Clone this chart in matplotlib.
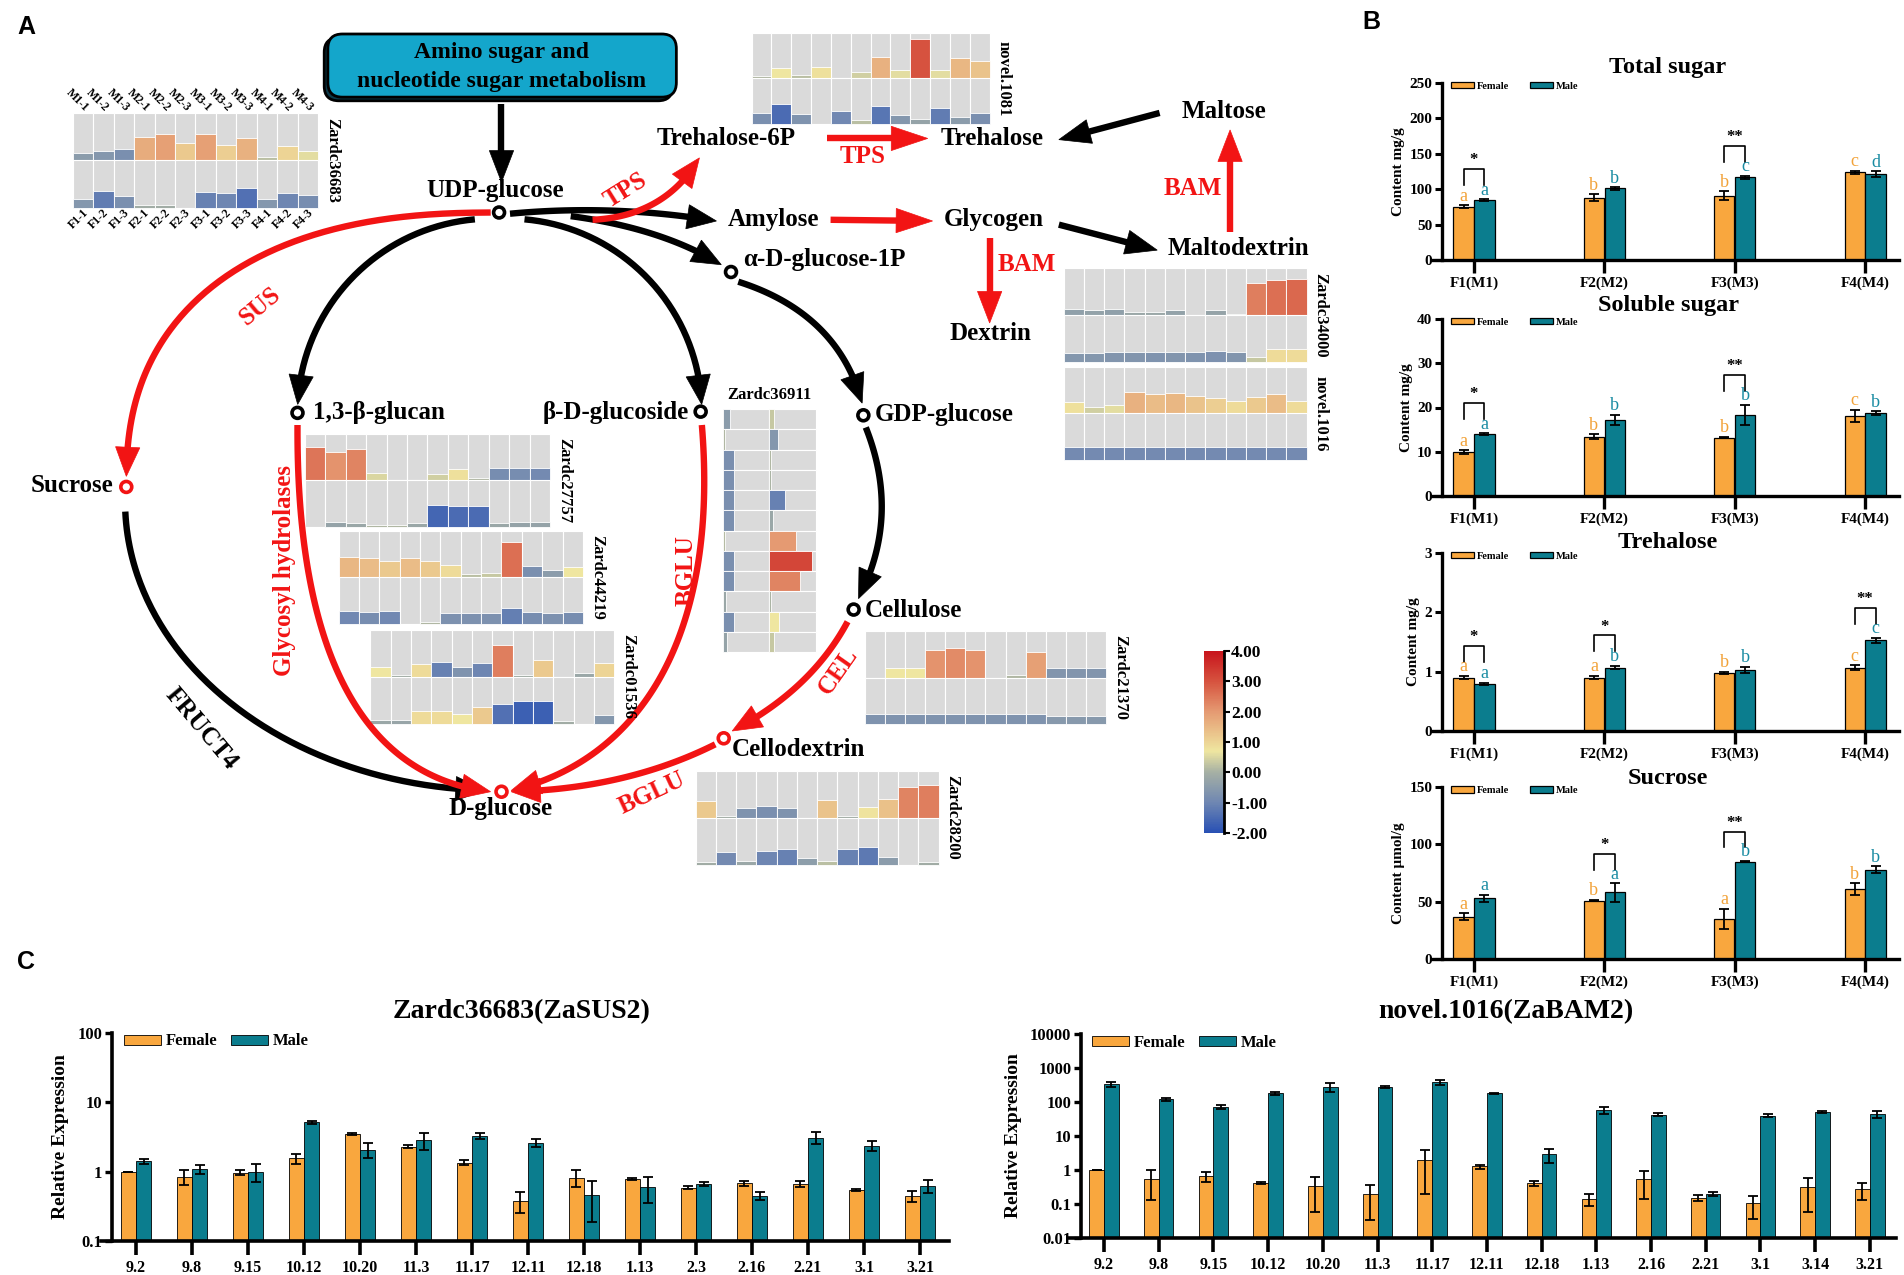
#!/usr/bin/env python3
"""Sugar metabolism figure: pathway with expression bars (A), sugar contents (B), qPCR (C)"""

import numpy as np
from math import comb
import matplotlib
matplotlib.use('Agg')
import matplotlib.pyplot as plt
from matplotlib.patches import Rectangle, Polygon, FancyBboxPatch, Circle
from matplotlib.colors import LinearSegmentedColormap, Normalize
from matplotlib.cm import ScalarMappable

plt.rcParams['font.family'] = ['Liberation Serif', 'DejaVu Serif']
plt.rcParams['font.weight'] = 'bold'
plt.rcParams['axes.labelweight'] = 'bold'

W, H = 1904, 1275          # output pixels
DW, DH = 1568, 1050        # drawing units for panel A (same aspect)

ORANGE = '#F9A73E'
TEAL = '#0B7D8E'
ORANGE_TXT = '#F2A33A'
TEAL_TXT = '#1A8CA3'
RED = '#F21414'

# === Panel A: expression bars, values on the -2..4 colour scale ===
m_samples = ['M1-1', 'M1-2', 'M1-3', 'M2-1', 'M2-2', 'M2-3', 'M3-1', 'M3-2', 'M3-3', 'M4-1', 'M4-2', 'M4-3']
f_samples = ['F1-1', 'F1-2', 'F1-3', 'F2-1', 'F2-2', 'F2-3', 'F3-1', 'F3-2', 'F3-3', 'F4-1', 'F4-2', 'F4-3']

zardc36683_m = [-0.5, -0.6, -0.8, 1.7, 1.9, 1.2, 1.9, 1.1, 1.6, 0.2, 1.0, 0.6]
zardc36683_f = [-0.6, -1.2, -0.8, -0.1, -0.1, 0.0, -1.1, -1.0, -1.4, -0.6, -1.0, -0.85]
novel1081_m = [0.1, 0.7, 0.2, 0.8, 0.0, 0.4, 1.6, 0.6, 3.0, 0.6, 1.5, 1.3]
novel1081_f = [-0.8, -1.5, -0.7, 0.0, -0.95, 0.2, -1.3, -0.6, -0.3, -1.2, -0.5, -0.8]
zardc34000_m = [-0.4, -0.35, -0.4, -0.2, -0.2, -0.35, 0.0, -0.3, -0.05, 2.4, 2.6, 2.7]
zardc34000_f = [-0.6, -0.6, -0.65, -0.65, -0.7, -0.65, -0.7, -0.75, -0.65, 0.3, 0.9, 0.9]
novel1016_m = [0.8, 0.4, 0.6, 1.6, 1.4, 1.5, 1.3, 1.1, 0.9, 1.2, 1.4, 0.9]
novel1016_f = [-0.9, -0.9, -0.9, -0.9, -0.9, -0.9, -0.9, -0.9, -0.9, -0.9, -0.9, -0.9]
zardc27757_m = [2.5, 2.1, 2.3, 0.5, 0.0, 0.0, 0.4, 0.8, 0.1, -0.85, -0.85, -0.9]
zardc27757_f = [0.0, -0.3, -0.2, 0.1, 0.1, -0.2, -1.6, -1.5, -1.5, -0.2, -0.3, -0.3]
zardc44219_m = [1.5, 1.4, 1.2, 1.4, 1.2, 0.9, 0.2, 0.3, 2.6, -0.8, -0.5, 0.7]
zardc44219_f = [-0.95, -0.85, -0.95, 0.0, 0.1, -0.75, -0.75, -0.75, -1.15, -0.85, -0.75, -0.85]
zardc01536_m = [0.7, -0.1, 0.9, -1.1, -0.7, -1.0, 2.4, -0.1, 1.2, 0.0, -0.2, 1.0]
zardc01536_f = [-0.2, -0.25, 0.9, 0.9, 0.7, 1.2, -1.4, -1.7, -1.7, -0.1, 0.0, -0.6]
zardc21370_m = [0.0, 0.7, 0.7, 2.1, 2.2, 2.1, 0.0, 0.1, 1.9, -0.65, -0.65, -0.65]
zardc21370_f = [-0.7, -0.7, -0.7, -0.7, -0.7, -0.7, -0.7, -0.7, -0.7, -0.55, -0.55, -0.55]
zardc28200_m = [1.2, -0.1, -0.7, -0.8, -0.7, 0.0, 1.3, -0.1, 0.75, 1.35, 2.3, 2.4]
zardc28200_f = [-0.1, -0.9, -0.2, -1.0, -1.1, -0.45, 0.2, -1.1, -1.25, -0.5, 0.0, -0.1]
zardc36911_f = [-0.5, 0.1, -0.8, -0.8, -0.8, -0.8, 0.15, -0.8, -0.8, -0.2, -0.8, -0.3]
zardc36911_m = [0.3, -0.6, 0.1, 0.05, -1.1, -0.2, 2.0, 3.2, 2.3, 0.05, 0.7, 0.3]

scale_vals = [-2, -1, 0, 0.7, 2, 3, 4]
scale_cols = ['#2850b4', '#6f87b2', '#a6b0a4', '#efe6a0', '#e59a72', '#d6533f', '#c8141c']
cbar_ticks = [-2, -1, 0, 1, 2, 3, 4]

# === Panel B: sugar contents ===
groups_b = ['F1(M1)', 'F2(M2)', 'F3(M3)', 'F4(M4)']
total_f = [75, 88, 91, 124]
total_fe = [2, 5, 6, 2]
total_m = [85, 101, 117, 121]
total_me = [1, 2, 2, 4]
total_fl = ['a', 'b', 'b', 'c']
total_ml = ['a', 'b', 'c', 'd']
total_sig = {0: '*', 2: '**'}

soluble_f = [9.9, 13.4, 13.2, 18.1]
soluble_fe = [0.4, 0.5, 0.2, 1.4]
soluble_m = [14.0, 17.2, 18.3, 18.8]
soluble_me = [0.2, 1.2, 2.3, 0.4]
soluble_fl = ['a', 'b', 'b', 'c']
soluble_ml = ['a', 'b', 'b', 'b']
soluble_sig = {0: '*', 2: '**'}

treh_f = [0.90, 0.90, 0.98, 1.07]
treh_fe = [0.03, 0.03, 0.02, 0.04]
treh_m = [0.79, 1.07, 1.03, 1.53]
treh_me = [0.02, 0.03, 0.05, 0.04]
treh_fl = ['a', 'a', 'b', 'c']
treh_ml = ['a', 'b', 'b', 'c']
treh_sig = {0: '*', 1: '*', 3: '**'}

sucr_f = [37, 51, 35, 61]
sucr_fe = [3, 0.5, 9, 5]
sucr_m = [53, 58, 85, 78]
sucr_me = [3, 8, 0.5, 3]
sucr_fl = ['a', 'b', 'a', 'b']
sucr_ml = ['a', 'a', 'b', 'b']
sucr_sig = {1: '*', 2: '**'}

# === Panel C: relative expression (qPCR) ===
sus_dates = ['9.2', '9.8', '9.15', '10.12', '10.20', '11.3', '11.17', '12.11', '12.18', '1.13', '2.3', '2.16', '2.21', '3.1', '3.21']
sus_f = [1.0, 0.85, 0.97, 1.55, 3.5, 2.3, 1.35, 0.38, 0.82, 0.78, 0.59, 0.68, 0.67, 0.55, 0.45]
sus_fe = [0.0, 0.2, 0.08, 0.25, 0.08, 0.12, 0.1, 0.13, 0.22, 0.03, 0.03, 0.06, 0.06, 0.02, 0.08]
sus_m = [1.42, 1.10, 1.0, 5.15, 2.05, 2.86, 3.3, 2.6, 0.46, 0.6, 0.66, 0.45, 3.1, 2.37, 0.63]
sus_me = [0.12, 0.16, 0.28, 0.3, 0.5, 0.8, 0.35, 0.35, 0.27, 0.25, 0.04, 0.06, 0.6, 0.4, 0.13]

bam_dates = ['9.2', '9.8', '9.15', '10.12', '10.20', '11.3', '11.17', '12.11', '12.18', '1.13', '2.16', '2.21', '3.1', '3.14', '3.21']
bam_f = [1.0, 0.55, 0.65, 0.41, 0.34, 0.195, 2.0, 1.27, 0.41, 0.143, 0.54, 0.15, 0.107, 0.32, 0.275]
bam_fe = [0.0, 0.42, 0.22, 0.03, 0.28, 0.16, 1.8, 0.18, 0.06, 0.055, 0.4, 0.03, 0.07, 0.26, 0.14]
bam_m = [330, 120, 73, 180, 283, 280, 380, 180, 2.9, 57, 42, 0.2, 40, 51, 45]
bam_me = [60, 15, 10, 20, 90, 15, 60, 10, 1.3, 12, 4, 0.03, 4, 4, 11]

fig = plt.figure(figsize=(W / 100, H / 100), dpi=100)
ax = fig.add_axes([0, 0, 1, 1])
ax.set_xlim(0, DW)
ax.set_ylim(DH, 0)
ax.axis('off')

cmap = LinearSegmentedColormap.from_list(
    'expr', [((v - scale_vals[0]) / (scale_vals[-1] - scale_vals[0]), c) for v, c in zip(scale_vals, scale_cols)])
norm = Normalize(scale_vals[0], scale_vals[-1])


def frac(v):
    return min(0.02 + 0.28 * abs(v), 0.92) if abs(v) > 0.02 else 0.0


def heat(x0, y0, x1, y1, top, bot, name):
    n = len(top)
    cw, rh = (x1 - x0) / n, (y1 - y0) / 2
    for r, vals in enumerate([top, bot]):
        ybase = y0 + (r + 1) * rh
        for i, v in enumerate(vals):
            cx = x0 + i * cw
            ax.add_patch(Rectangle((cx, ybase - rh), cw, rh, fc='#dadada', ec='white', lw=0.8))
            f = frac(v)
            if f > 0:
                ax.add_patch(Rectangle((cx, ybase - f * rh), cw, f * rh, fc=cmap(norm(v)), ec='white', lw=0.6))
    ax.text(x1 + 5, (y0 + y1) / 2, name, rotation=-90, ha='left', va='center', fontsize=12)


def heat_v(x0, y0, x1, y1, left, right, name):
    n = len(left)
    rh, cw = (y1 - y0) / n, (x1 - x0) / 2
    for c, vals in enumerate([left, right]):
        xb = x0 + c * cw
        for i, v in enumerate(vals):
            yy = y0 + i * rh
            ax.add_patch(Rectangle((xb, yy), cw, rh, fc='#dadada', ec='white', lw=0.8))
            f = frac(v)
            if f > 0:
                ax.add_patch(Rectangle((xb, yy), f * cw, rh, fc=cmap(norm(v)), ec='white', lw=0.6))
    ax.text((x0 + x1) / 2, y0 - 5, name, ha='center', va='bottom', fontsize=12)


def bez(*pts, n=80):
    pts = np.asarray(pts, float)
    t = np.linspace(0, 1, n)[:, None]
    k = len(pts) - 1
    out = sum(comb(k, i) * (1 - t) ** (k - i) * t ** i * pts[i] for i in range(k + 1))
    return out[:, 0], out[:, 1]


def ell(cx, cy, rx, ry, a0, a1, p=2.0, n=150):
    a = np.radians(np.linspace(a0, a1, n))
    c, s = np.cos(a), np.sin(a)
    return cx + rx * np.sign(c) * np.abs(c) ** (2 / p), cy - ry * np.sign(s) * np.abs(s) ** (2 / p)


def arrow(xs, ys, color, lw=4.6, hl=24, hw=10):
    xs = np.asarray(xs, float)
    ys = np.asarray(ys, float)
    cum = np.concatenate([[0], np.cumsum(np.hypot(np.diff(xs), np.diff(ys)))])
    L = cum[-1]
    bx, by = np.interp(L - hl, cum, xs), np.interp(L - hl, cum, ys)
    ux, uy = xs[-1] - bx, ys[-1] - by
    nn = np.hypot(ux, uy)
    ux, uy = ux / nn, uy / nn
    b0, b1 = xs[-1] - ux * hl, ys[-1] - uy * hl
    ax.add_patch(Polygon([(xs[-1], ys[-1]), (b0 - uy * hw, b1 + ux * hw), (b0 + uy * hw, b1 - ux * hw)],
                         closed=True, fc=color, ec=color, lw=0.5, zorder=3))
    cut = L - hl * 0.6
    keep = cum < cut
    lx = np.append(xs[keep], np.interp(cut, cum, xs))
    ly = np.append(ys[keep], np.interp(cut, cum, ys))
    ax.plot(lx, ly, color=color, lw=lw, solid_capstyle='butt', zorder=3)


# --- panel letters
ax.text(14, 22, 'A', family='Liberation Sans', fontsize=18, weight='bold', va='center')
ax.text(1122, 18, 'B', family='Liberation Sans', fontsize=18, weight='bold', va='center')
ax.text(14, 792, 'C', family='Liberation Sans', fontsize=18, weight='bold', va='center')

# --- top box
ax.add_patch(FancyBboxPatch((267, 31), 287, 52, boxstyle='round,pad=0,rounding_size=12', fc='#0b3a4a', ec='black', lw=2))
ax.add_patch(FancyBboxPatch((270, 28), 287, 52, boxstyle='round,pad=0,rounding_size=12', fc='#14A6CB', ec='black', lw=2))
ax.text(413, 43, 'Amino sugar and', ha='center', va='center', fontsize=17)
ax.text(413, 67, 'nucleotide sugar metabolism', ha='center', va='center', fontsize=17)

# --- pathway edges
arrow([413, 413], [86, 150], 'black', hl=26, hw=10)
arrow(*ell(410, 400, 306, 225, 90.5, 179, p=2.4), RED)                  # SUS
arrow(*ell(410, 413, 307, 238, 182, 268), 'black')                       # FRUCT4
arrow(*ell(405, 340, 160, 160, 95, 177.5), 'black')                      # -> 1,3-b-glucan
arrow(*ell(418, 340, 160, 160, 85, 2.5), 'black')                        # -> b-D-glucoside
arrow(*bez((420, 176), (505, 168), (590, 182)), 'black')                 # -> amylose
arrow(*bez((470, 178), (545, 188), (594, 218)), 'black')                 # -> a-D-glucose-1P
arrow(*bez((488, 181), (548, 178), (576, 130)), RED)                     # TPS
arrow(*bez((608, 232), (690, 258), (710, 332)), 'black')                 # -> GDP-glucose
arrow(*bez((713, 352), (742, 425), (707, 493)), 'black')                 # -> cellulose
arrow(*bez((698, 512), (668, 568), (603, 602)), RED)                     # CEL
arrow(*bez((589, 613), (515, 650), (421, 652)), RED)                     # BGLU lower
arrow(*bez((245, 350), (244, 540), (300, 640), (404, 652)), RED)         # glycosyl hydrolases
arrow(*bez((578, 350), (592, 520), (530, 625), (421, 651)), RED)         # BGLU
arrow([681, 764], [114, 114], RED, hl=30, hw=10)
arrow([955, 872], [93, 115], 'black', hl=26, hw=10)
arrow([684, 768], [181, 182], RED, hl=30, hw=10)
arrow([872, 953], [185, 206], 'black', hl=26, hw=10)
arrow([815, 815], [196, 266], RED, hl=26, hw=10)
arrow([1013, 1013], [191, 107], RED, hl=26, hw=10)

# --- node circles
for (cx, cy), col in [((411, 175), 'black'), ((602, 224), 'black'), ((245, 340), 'black'),
                      ((577, 339), 'black'), ((711, 342), 'black'), ((703, 502), 'black'),
                      ((104, 401), RED), ((596, 608), RED), ((413, 652), RED)]:
    ax.add_patch(Circle((cx, cy), 4.5, fc='white', ec=col, lw=2.6, zorder=4))

# --- node labels
for txt, x, y, ha in [('UDP-glucose', 408, 157, 'center'), ('Trehalose-6P', 598, 114, 'center'),
                      ('Trehalose', 817, 114, 'center'), ('Maltose', 1008, 92, 'center'),
                      ('Amylose', 637, 181, 'center'), ('Glycogen', 818, 181, 'center'),
                      ('Maltodextrin', 1020, 205, 'center'), ('α-D-glucose-1P', 612, 214, 'left'),
                      ('Dextrin', 816, 275, 'center'), ('1,3-β-glucan', 258, 340, 'left'),
                      ('β-D-glucoside', 567, 340, 'right'), ('GDP-glucose', 720, 341, 'left'),
                      ('Sucrose', 93, 400, 'right'), ('Cellulose', 712, 503, 'left'),
                      ('Cellodextrin', 603, 617, 'left'), ('D-glucose', 412, 666, 'center')]:
    ax.text(x, y, txt, ha=ha, va='center', fontsize=18)

# --- enzyme labels
for txt, x, y, rot, col in [('SUS', 214, 252, 40, RED), ('TPS', 515, 157, 32, RED), ('TPS', 710, 129, 0, RED),
                            ('BAM', 846, 218, 0, RED), ('BAM', 982, 155, 0, RED),
                            ('Glycosyl hydrolases', 234, 470, 90, RED), ('BGLU', 565, 470, 90, RED),
                            ('CEL', 690, 553, 55, RED), ('BGLU', 537, 653, 25, RED), ('FRUCT4', 166, 600, -50, 'black')]:
    ax.text(x, y, txt, ha='center', va='center', rotation=rot, rotation_mode='anchor', fontsize=18, color=col)

# --- expression bars
heat(60, 93, 262, 171, zardc36683_m, zardc36683_f, 'Zardc36683')
cw = (262 - 60) / len(m_samples)
for i, (ms, fs) in enumerate(zip(m_samples, f_samples)):
    xc = 60 + (i + 0.5) * cw
    ax.text(xc + 3, 90, ms, rotation=-45, rotation_mode='anchor', ha='right', va='center', fontsize=8.5)
    ax.text(xc + 3, 174, fs, rotation=45, rotation_mode='anchor', ha='right', va='center', fontsize=8.5)
heat(619, 27, 815, 102, novel1081_m, novel1081_f, 'novel.1081')
heat(876, 221, 1076, 298, zardc34000_m, zardc34000_f, 'Zardc34000')
heat(876, 302, 1076, 379, novel1016_m, novel1016_f, 'novel.1016')
heat(251, 357, 453, 434, zardc27757_m, zardc27757_f, 'Zardc27757')
heat(279, 437, 480, 514, zardc44219_m, zardc44219_f, 'Zardc44219')
heat(305, 519, 506, 596, zardc01536_m, zardc01536_f, 'Zardc01536')
heat(712, 520, 911, 596, zardc21370_m, zardc21370_f, 'Zardc21370')
heat(573, 635, 773, 712, zardc28200_m, zardc28200_f, 'Zardc28200')
heat_v(595, 337, 672, 537, zardc36911_f, zardc36911_m, 'Zardc36911')

# --- colour bar
cax = fig.add_axes([1204 / W, 1 - 833 / H, 20 / W, 182 / H])
cb = fig.colorbar(ScalarMappable(norm=norm, cmap=cmap), cax=cax, ticks=cbar_ticks)
cb.outline.set_visible(False)
cb.ax.set_yticklabels([f'{t:.2f}' for t in cbar_ticks])
cb.ax.tick_params(labelsize=12.5, length=4, width=1.5, pad=1)
cax.plot([1, 1], [0, 1], transform=cax.transAxes, color='black', lw=2, clip_on=False)


# === Panel B ===
def content_panel(top, bottom, title_y, title, ylabel, ymax, ystep, f, fe, m, me, fl, ml, sig):
    a = fig.add_axes([1432 / W, 1 - bottom / H, (1899 - 1432) / W, (bottom - top) / H])
    a.set_facecolor('none')
    x = np.arange(len(groups_b))
    ek = dict(elinewidth=1.3, capthick=1.3)
    a.bar(x - 0.08, f, 0.155, yerr=fe, color=ORANGE, edgecolor='black', linewidth=0.9, capsize=3.5, error_kw=ek, label='Female')
    a.bar(x + 0.08, m, 0.155, yerr=me, color=TEAL, edgecolor='black', linewidth=0.9, capsize=3.5, error_kw=ek, label='Male')
    a.set_xlim(-0.322, 3.26)
    a.set_ylim(0, ymax)
    a.set_yticks(np.arange(0, ymax + ystep / 2, ystep))
    a.set_xticks(x)
    a.set_xticklabels(groups_b)
    for s in ['top', 'right']:
        a.spines[s].set_visible(False)
    a.spines['left'].set_position(('data', -0.245))
    for s in ['left', 'bottom']:
        a.spines[s].set_linewidth(2.4)
    a.tick_params(axis='y', length=5, width=2.2, labelsize=11, pad=2)
    a.tick_params(axis='x', length=9, width=2.4, labelsize=11, pad=3)
    a.set_ylabel(ylabel, fontsize=11, labelpad=3)
    for xi, v, e, l in zip(x, f, fe, fl):
        a.text(xi - 0.08, v + e + ymax * 0.003, l, color=ORANGE_TXT, ha='center', va='bottom', fontsize=13, fontweight='normal')
    for xi, v, e, l in zip(x, m, me, ml):
        a.text(xi + 0.08, v + e + ymax * 0.003, l, color=TEAL_TXT, ha='center', va='bottom', fontsize=13, fontweight='normal')
    for i, s in sig.items():
        lo = max(f[i] + fe[i], m[i] + me[i]) + 0.08 * ymax
        hi = lo + 0.09 * ymax
        a.plot([i - 0.08, i - 0.08, i + 0.08, i + 0.08], [lo, hi, hi, lo], color='black', lw=1.2)
        a.text(i, hi + 0.005 * ymax, s, ha='center', va='bottom', fontsize=12)
    a.legend(loc='upper left', bbox_to_anchor=(0.02, 1.06), ncol=2, frameon=False, fontsize=7.5,
             handlelength=2.2, handleheight=0.55, columnspacing=2.0, handletextpad=0.3)
    fig.text(1668 / W, 1 - title_y / H, title, ha='center', va='center', fontsize=17.5)


content_panel(83, 260, 67, 'Total sugar', 'Content mg/g', 250, 50,
              total_f, total_fe, total_m, total_me, total_fl, total_ml, total_sig)
content_panel(319, 496, 305, 'Soluble sugar', 'Content mg/g', 40, 10,
              soluble_f, soluble_fe, soluble_m, soluble_me, soluble_fl, soluble_ml, soluble_sig)
content_panel(553, 731, 543, 'Trehalose', 'Content mg/g', 3, 1,
              treh_f, treh_fe, treh_m, treh_me, treh_fl, treh_ml, treh_sig)
content_panel(787, 959, 778, 'Sucrose', 'Content μmol/g', 150, 50,
              sucr_f, sucr_fe, sucr_m, sucr_me, sucr_fl, sucr_ml, sucr_sig)


# === Panel C ===
def qpcr_panel(px0, px1, ptop, pbot, yaxis_px, first_px, step_px, dates, f, fe, m, me, ylo, yhi, title, title_x):
    a = fig.add_axes([px0 / W, 1 - pbot / H, (px1 - px0) / W, (pbot - ptop) / H])
    a.set_facecolor('none')
    a.set_yscale('log')
    x = np.arange(len(dates))
    ek = dict(elinewidth=1.3, capthick=1.3)
    a.bar(x - 0.135, np.array(f) - ylo, 0.27, bottom=ylo, yerr=fe, color=ORANGE, edgecolor='black', linewidth=0.6,
          capsize=3.5, error_kw=ek, label='Female')
    a.bar(x + 0.135, np.array(m) - ylo, 0.27, bottom=ylo, yerr=me, color=TEAL, edgecolor='black', linewidth=0.6,
          capsize=3.5, error_kw=ek, label='Male')
    a.set_xlim((px0 - first_px) / step_px, (px1 - first_px) / step_px)
    a.set_ylim(ylo, yhi)
    yt = 10.0 ** np.arange(np.log10(ylo), np.log10(yhi) + 0.5)
    a.set_yticks(yt)
    a.set_yticklabels([f'{v:g}' for v in yt])
    a.minorticks_off()
    a.set_xticks(x)
    a.set_xticklabels(dates)
    for s in ['top', 'right']:
        a.spines[s].set_visible(False)
    a.spines['left'].set_position(('data', (yaxis_px - first_px) / step_px))
    for s in ['left', 'bottom']:
        a.spines[s].set_linewidth(2.6)
    a.tick_params(axis='y', length=5, width=2.4, labelsize=12, pad=2)
    a.tick_params(axis='x', length=10, width=2.6, labelsize=11.5, pad=4)
    a.set_ylabel('Relative Expression', fontsize=14, labelpad=6)
    a.legend(loc='upper left', bbox_to_anchor=(0.01, 1.07), ncol=2, frameon=False, fontsize=12,
             handlelength=2.2, handleheight=0.55, columnspacing=0.8, handletextpad=0.3)
    fig.text(title_x / W, 1 - 1012 / H, title, ha='center', va='center', fontsize=20)


qpcr_panel(101, 949, 1033, 1241, 112, 136, 56, sus_dates, sus_f, sus_fe, sus_m, sus_me, 0.1, 100,
           'Zardc36683(ZaSUS2)', 522)
qpcr_panel(1069, 1896, 1034, 1238, 1081, 1104, 54.7, bam_dates, bam_f, bam_fe, bam_m, bam_me, 0.01, 10000,
           'novel.1016(ZaBAM2)', 1506)

fig.savefig('out.png', dpi=100, facecolor='white')
